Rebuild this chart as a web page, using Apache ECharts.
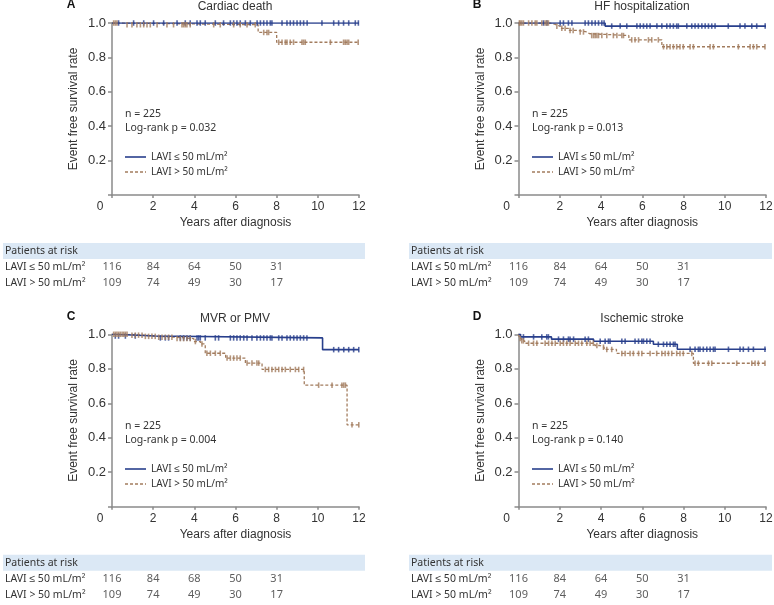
<!DOCTYPE html>
<html><head><meta charset="utf-8">
<script src="https://cdn.jsdelivr.net/npm/echarts@6/dist/echarts.min.js"></script>
<style>html,body{margin:0;padding:0;background:#fff}#c{width:774px;height:605px}</style>
</head><body><div id="c"></div>
<script>
// ---------------- DATA ----------------
const groupLow = 'LAVI ≤ 50 mL/m²';
const groupHigh = 'LAVI > 50 mL/m²';
const panelLetters = ['A', 'B', 'C', 'D'];
const panelTitles = ['Cardiac death', 'HF hospitalization', 'MVR or PMV', 'Ischemic stroke'];
const sampleSize = ['n = 225', 'n = 225', 'n = 225', 'n = 225'];
const logRank = ['Log-rank p = 0.032', 'Log-rank p = 0.013', 'Log-rank p = 0.004', 'Log-rank p = 0.140'];
const xTicks = [0, 2, 4, 6, 8, 10, 12];
const riskTimes = [0, 2, 4, 6, 8];

// Kaplan-Meier steps [time, survival]
const kmA_low = [[0,1],[12,1]];
const kmA_high = [[0,1],[0.5,0.99],[7.1,0.945],[8.0,0.888],[12,0.888]];
const kmB_low = [[0,1],[4.2,0.982],[12,0.982]];
const kmB_high = [[0,1],[1.53,0.992],[1.78,0.981],[2.02,0.969],[2.42,0.957],[2.83,0.948],[3.31,0.938],[3.44,0.927],[5.35,0.902],[6.95,0.862],[12,0.862]];
const kmC_low = [[0,1],[0.1,0.99],[2.1,0.979],[10.23,0.911],[12,0.911]];
const kmC_high = [[0,1],[0.8,0.995],[1.5,0.988],[2.2,0.983],[3.1,0.975],[3.97,0.958],[4.3,0.944],[4.53,0.89],[5.52,0.862],[6.48,0.833],[7.29,0.796],[9.34,0.705],[11.42,0.475],[12,0.475]];
const kmD_low = [[0,1],[0.1,0.985],[1.6,0.972],[3.64,0.96],[6.54,0.942],[7.7,0.913],[12,0.913]];
const kmD_high = [[0,1],[0.05,0.975],[0.15,0.962],[0.3,0.948],[3.7,0.935],[3.95,0.925],[4.15,0.912],[4.75,0.889],[8.48,0.832],[12,0.832]];

// censoring times
const censA_low = [0.32,1.05,1.54,2.02,2.51,3.16,3.56,3.80,4.13,4.29,4.53,5.02,5.42,5.75,5.91,6.07,6.23,6.48,6.72,7.05,7.21,7.37,7.53,7.69,7.77,8.26,8.50,8.66,8.82,8.99,9.15,9.31,9.48,10.2,10.77,11.01,11.25,11.50,11.82,11.97];
const censA_high = [0.08,0.16,0.24,0.73,0.97,1.21,1.38,1.54,1.70,1.86,2.19,2.67,2.99,3.40,3.48,3.56,3.64,3.80,4.94,5.26,5.91,6.23,6.56,6.96,7.37,7.53,7.61,8.10,8.26,8.42,8.50,8.66,8.82,9.23,9.31,9.39,10.61,11.25,11.33,11.42,11.50,11.96];
const censB_low = [1.21,1.38,2.02,2.18,2.42,2.59,3.23,3.39,3.56,3.72,3.88,4.04,4.15,4.52,4.93,5.25,5.74,5.90,6.06,6.22,6.38,6.71,6.95,7.19,7.35,7.51,7.67,7.75,8.16,8.40,8.56,8.72,8.89,9.05,9.21,9.37,9.53,10.17,10.74,10.98,11.31,11.55,11.96];
const censB_high = [0.04,0.08,0.16,0.24,0.49,0.65,0.81,0.89,1.13,1.29,1.37,1.45,1.86,2.10,2.26,2.50,2.65,2.99,3.15,3.55,3.64,3.72,3.80,3.88,4.04,4.28,4.60,4.77,5.01,5.09,5.49,5.65,5.82,6.30,6.46,6.78,7.03,7.19,7.35,7.51,7.67,7.83,7.99,8.32,8.48,9.29,9.45,10.66,11.23,11.39,11.55,11.95];
const censC_low = [0.16,0.32,0.65,1.13,2.35,2.59,2.75,3.32,3.48,3.64,3.80,4.13,4.21,4.29,4.53,5.02,5.18,5.75,5.91,6.07,6.23,6.40,6.56,6.80,7.04,7.21,7.37,7.53,7.69,7.77,8.10,8.26,8.50,8.66,8.83,8.99,9.15,9.31,9.47,10.77,11.01,11.26,11.50,11.74,11.99];
const censC_high = [0.08,0.16,0.24,0.32,0.40,0.49,0.57,0.65,0.73,0.97,1.13,1.29,1.46,1.62,1.78,1.94,2.10,2.27,2.43,2.59,2.75,2.91,3.16,3.32,3.48,3.64,3.80,4.05,4.37,4.61,4.78,5.02,5.26,5.59,5.75,5.91,6.07,6.23,6.56,6.80,7.04,7.13,7.45,7.61,7.77,7.94,8.10,8.26,8.42,8.66,8.91,9.07,9.31,10.04,10.69,11.17,11.26,11.34,11.66,11.99];
const censD_low = [0.24,0.73,1.13,1.37,1.45,1.94,2.18,2.42,2.50,2.67,3.23,3.39,3.96,4.20,4.36,4.44,5.01,5.17,5.65,5.82,5.98,6.06,6.22,6.38,6.78,7.03,7.19,7.35,7.51,7.59,8.32,8.56,8.72,8.80,8.96,9.13,9.29,9.45,9.53,10.18,10.74,10.90,11.15,11.39,11.95];
const censD_high = [0.08,0.16,0.24,0.49,0.73,0.89,1.29,1.46,1.62,1.78,2.02,2.18,2.34,2.50,2.75,2.91,3.07,3.31,3.47,3.63,3.80,4.12,4.28,4.52,5.01,5.17,5.41,5.57,5.82,5.98,6.38,6.70,6.95,7.11,7.27,7.43,7.67,7.83,7.99,8.40,8.56,8.72,9.21,9.37,10.58,11.31,11.47,11.63,11.95];

// patients at risk
const riskA_low = [116, 84, 64, 50, 31];
const riskA_high = [109, 74, 49, 30, 17];
const riskB_low = [116, 84, 64, 50, 31];
const riskB_high = [109, 74, 49, 30, 17];
const riskC_low = [116, 84, 68, 50, 31];
const riskC_high = [109, 74, 49, 30, 17];
const riskD_low = [116, 84, 64, 50, 31];
const riskD_high = [109, 74, 49, 30, 17];

// ---------------- LAYOUT / STYLE ----------------
const BLUE = '#283f8c';
const BROWN = '#a27c5e';
const AXIS = '#8a8a8a';
const TXT = '#333333';
const FA = '"Liberation Sans", Arial, sans-serif';
const FT = '"Noto Sans", sans-serif';
const ICON_SOLID = 'path://M0,0H21V1.6H0Z';
const ICON_DASH = 'path://M0,0H3V1.3H0Z M5,0H8V1.3H5Z M10,0H13V1.3H10Z M15,0H18V1.3H15Z M20,0H21V1.3H20Z';

const km = [[kmA_low, kmA_high], [kmB_low, kmB_high], [kmC_low, kmC_high], [kmD_low, kmD_high]];
const cens = [[censA_low, censA_high], [censB_low, censB_high], [censC_low, censC_high], [censD_low, censD_high]];
const risk = [[riskA_low, riskA_high], [riskB_low, riskB_high], [riskC_low, riskC_high], [riskD_low, riskD_high]];

const L = [
  {gx:112, gy:23, gw:247, gh:172, letterX:71, titleY:7, titleX:235, annX:125, annY:114, legY:158, bandX:3, bandW:362, bandY:243, tTop:259},
  {gx:518.5, gy:23, gw:247.5, gh:172, letterX:477, titleY:7, titleX:642, annX:532, annY:114, legY:158, bandX:409, bandW:363, bandY:243, tTop:259},
  {gx:112, gy:334.3, gw:247, gh:172.4, letterX:71, titleY:319, titleX:235, annX:125, annY:426, legY:470, bandX:3, bandW:362, bandY:554.7, tTop:570.7},
  {gx:518.5, gy:334.3, gw:247.5, gh:172.4, letterX:477, titleY:319, titleX:642, annX:532, annY:426, legY:470, bandX:409, bandW:363, bandY:554.7, tTop:570.7}
];

function survAt(curve, t) {
  let s = curve[0][1];
  for (const p of curve) { if (p[0] <= t) s = p[1]; }
  return s;
}

const grid = [], xAxis = [], yAxis = [], series = [], legend = [], graphic = [];

L.forEach((p, i) => {
  grid.push({left:p.gx, top:p.gy, width:p.gw, height:p.gh, outerBoundsMode:'none'});
  xAxis.push({
    gridIndex:i, type:'value', min:0, max:12, interval:2,
    axisLine:{lineStyle:{color:AXIS, width:1.5}},
    axisTick:{length:3, lineStyle:{color:AXIS, width:1.5}},
    splitLine:{show:false},
    axisLabel:{color:TXT, fontSize:12, fontFamily:FA, margin:6,
      formatter: v => v === 0 ? '{z|0}' : String(v),
      rich:{z:{padding:[0,24,0,0], color:TXT, fontSize:12, fontFamily:FA}}},
    name:'Years after diagnosis', nameLocation:'middle', nameGap:22,
    nameTextStyle:{color:TXT, fontSize:12, fontFamily:FA}
  });
  yAxis.push({
    gridIndex:i, type:'value', min:0, max:1, interval:0.2,
    axisLine:{show:true, lineStyle:{color:AXIS, width:1.5}},
    axisTick:{show:true, length:4, lineStyle:{color:AXIS, width:1.5}},
    splitLine:{show:false},
    axisLabel:{color:TXT, fontSize:13, fontFamily:FA, margin:6,
      formatter: v => v === 0 ? '' : v.toFixed(1)},
    name:'Event free survival rate', nameLocation:'middle', nameGap:32,
    nameTextStyle:{color:TXT, fontSize:12, fontFamily:FA}
  });
});

L.forEach((p, i) => {
  grid.push({left:p.gx, top:p.tTop, width:p.gw, height:32, outerBoundsMode:'none'});
  xAxis.push({gridIndex:4+i, type:'value', min:0, max:12, show:false});
  yAxis.push({gridIndex:4+i, type:'category', inverse:true, data:[groupLow, groupHigh],
    axisLine:{show:false}, axisTick:{show:false}, splitLine:{show:false},
    axisLabel:{align:'left', margin:p.gx - p.bandX - 2, color:TXT, fontSize:10.5, fontFamily:FT}});
});

L.forEach((p, i) => {
  const [low, high] = km[i];
  series.push({name:groupLow, type:'line', step:'end', xAxisIndex:i, yAxisIndex:i, data:low,
    symbol:'none', lineStyle:{color:BLUE, width:1.6}, itemStyle:{color:BLUE}, z:3, silent:true});
  series.push({name:groupHigh, type:'line', step:'end', xAxisIndex:i, yAxisIndex:i, data:high,
    symbol:'none', lineStyle:{color:BROWN, width:1.3, type:[3,2]}, itemStyle:{color:BROWN}, z:2, silent:true});
  series.push({name:'cl'+i, type:'scatter', xAxisIndex:i, yAxisIndex:i,
    data:cens[i][0].map(t => [t, survAt(low, t)]), symbol:'rect', symbolSize:[1.6,5.5],
    itemStyle:{color:BLUE}, z:4, silent:true});
  series.push({name:'ch'+i, type:'scatter', xAxisIndex:i, yAxisIndex:i,
    data:cens[i][1].map(t => [t, survAt(high, t)]), symbol:'rect', symbolSize:[1.6,5.5],
    itemStyle:{color:BROWN}, z:4, silent:true});
  const td = [];
  risk[i].forEach((row, r) => row.forEach((v, k) => td.push([riskTimes[k], r, v])));
  series.push({name:'risk'+i, type:'scatter', xAxisIndex:4+i, yAxisIndex:4+i, data:td,
    symbolSize:0, silent:true,
    label:{show:true, position:'inside', formatter: q => String(q.value[2]),
      color:TXT, fontSize:11, fontFamily:FT}});

  legend.push({orient:'vertical', left:p.annX, top:p.legY - 6, padding:0, itemGap:5,
    itemWidth:21, itemHeight:12, selectedMode:false, symbolKeepAspect:true,
    data:[{name:groupLow, icon:ICON_SOLID, itemStyle:{color:BLUE}},
          {name:groupHigh, icon:ICON_DASH, itemStyle:{color:BROWN}}],
    textStyle:{color:TXT, fontSize:10, fontFamily:FT}});

  graphic.push({type:'text', x:p.letterX, y:p.titleY - 2, style:{text:panelLetters[i], align:'center',
    verticalAlign:'middle', font:'bold 12px ' + FA, fill:'#111'}});
  graphic.push({type:'text', x:p.titleX, y:p.titleY, style:{text:panelTitles[i], align:'center',
    verticalAlign:'middle', font:'12px ' + FA, fill:TXT}});
  graphic.push({type:'text', x:p.annX, y:p.annY, style:{text:sampleSize[i], align:'left',
    verticalAlign:'middle', font:'10.5px ' + FT, fill:TXT}});
  graphic.push({type:'text', x:p.annX, y:p.annY + 14, style:{text:logRank[i], align:'left',
    verticalAlign:'middle', font:'10.5px ' + FT, fill:TXT}});
  graphic.push({type:'rect', shape:{x:p.bandX, y:p.bandY, width:p.bandW, height:16},
    style:{fill:'#dbe8f5'}, z:-1});
  graphic.push({type:'text', x:p.bandX + 2, y:p.bandY + 8, style:{text:'Patients at risk', align:'left',
    verticalAlign:'middle', font:'10.5px ' + FT, fill:TXT}});
});

const chart = echarts.init(document.getElementById('c'), null, {renderer:'canvas'});
chart.setOption({
  animation:false,
  backgroundColor:'#ffffff',
  grid, xAxis, yAxis, series, legend, graphic
});
</script>
</body></html>
